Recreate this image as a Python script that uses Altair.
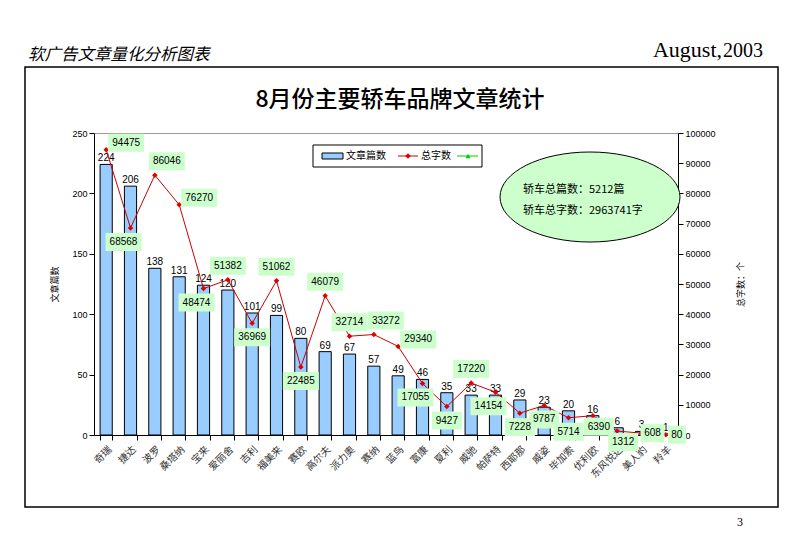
import altair as alt
import pandas as pd

brands = ["奇瑞", "捷达", "波罗", "桑塔纳", "宝来", "爱丽舍", "吉利", "福美来", "赛欧", "高尔夫",
          "派力奥", "赛纳", "蓝鸟", "富康", "夏利", "威驰", "帕萨特", "西耶那", "威姿", "毕加索",
          "优利欧", "东风悦达", "美人豹", "羚羊"]
articles = [224, 206, 138, 131, 124, 120, 101, 99, 80, 69, 67, 57, 49, 46, 35, 33, 33, 29, 23, 20, 16, 6, 3, 1]
words = [94475, 68568, 86046, 76270, 48474, 51382, 36969, 51062, 22485, 46079, 32714, 33272, 29340,
         17055, 9427, 17220, 14154, 7228, 9787, 5714, 6390, 1312, 608, 80]
label_side = ["ar", "bl", "a", "ar", "bl", "a0", "b", "a0", "b", "a0", "a0", "a", "ar",
              "bl", "b", "a0", "bl", "b", "b", "b", "br", "br", "r", "r"]
left_ticks = [0, 50, 100, 150, 200, 250]
right_ticks = [0, 10000, 20000, 30000, 40000, 50000, 60000, 70000, 80000, 90000, 100000]

df = pd.DataFrame({"brand": brands, "articles": articles, "words": words, "side": label_side})
one = pd.DataFrame({"a": [0]})

CJK = "Noto Sans CJK SC"
SANS = "Liberation Sans"
SERIF = "Liberation Serif"

xenc = alt.X("brand:N", sort=brands,
             scale=alt.Scale(paddingInner=0.5, paddingOuter=0.25),
             axis=alt.Axis(title=None, labelAngle=-45, labelFont=CJK, labelFontSize=10,
                           labelColor="#333333", tickBand="extent", domainColor="black",
                           tickColor="black", labelPadding=4))

yl = alt.Y("articles:Q", scale=alt.Scale(domain=[0, 250], nice=False),
           axis=alt.Axis(orient="left", values=left_ticks, title="文章篇数", titleAngle=270,
                         titleFont=CJK, titleFontSize=9, titleFontWeight="normal",
                         titlePadding=12, labelFont=SANS, labelFontSize=9, labelColor="black",
                         domainColor="black", tickColor="black", grid=False))

yr = alt.Y("words:Q", scale=alt.Scale(domain=[0, 100000], nice=False),
           axis=alt.Axis(orient="right", values=right_ticks, format="d", title="总字数：个",
                         titleAngle=270, titleFont=CJK, titleFontSize=9, titleFontWeight="normal",
                         titlePadding=30, labelFont=SANS, labelFontSize=9, labelColor="black",
                         domainColor="black", tickColor="black", grid=False))

base = alt.Chart(df).transform_calculate(nd="length(toString(datum.words))")

bars = base.mark_bar(color="#99CCFF", stroke="black", strokeWidth=1).encode(x=xenc, y=yl)
bar_text = base.mark_text(baseline="bottom", dy=-1, font=SANS, fontSize=10, color="black").encode(
    x=xenc, y=yl, text="articles:Q")
left_layer = alt.layer(bars, bar_text)

line = base.mark_line(color="#CC0000", strokeWidth=1).encode(x=xenc, y=yr)
pts = base.mark_point(shape="diamond", filled=True, color="#E00000", size=30, opacity=1).encode(
    x=xenc, y=yr)

offsets = {"ar": (20, -7), "a": (12, -14), "a0": (0, -14), "bl": (-7, 14), "b": (0, 14),
           "br": (6, 11), "r": (11, 0)}
# box shape per number of digits: (path, size)
boxes = {2: ("M-1,-1H1V1H-1Z", 18 * 18), 3: ("M-1,-0.75H1V0.75H-1Z", 24 * 24),
         4: ("M-1,-0.6H1V0.6H-1Z", 30 * 30), 5: ("M-1,-0.5H1V0.5H-1Z", 36 * 36)}
label_layers = []
for side, (ox, oy) in offsets.items():
    sub = base.transform_filter(alt.datum.side == side)
    for nd, (path, bsize) in boxes.items():
        box = sub.transform_filter(alt.datum.nd == nd).mark_point(
            shape=path, size=bsize, filled=True, color="#CCFFCC", opacity=1,
            xOffset=ox, yOffset=oy).encode(x=xenc, y=yr)
        label_layers.append(box)
for side, (ox, oy) in offsets.items():
    sub = base.transform_filter(alt.datum.side == side)
    txt = sub.mark_text(dx=ox, dy=oy, font=SANS, fontSize=10, color="black").encode(
        x=xenc, y=yr, text="words:Q")
    label_layers.append(txt)
right_layer = alt.layer(line, pts, *label_layers)

def txt_mark(text, x, y, **kw):
    return alt.Chart(one).mark_text(text=text, **kw).encode(x=alt.value(x), y=alt.value(y))

frame = alt.Chart(one).mark_rect(fill=None, stroke="black", strokeWidth=1.5).encode(
    x=alt.value(-69), x2=alt.value(684), y=alt.value(-66), y2=alt.value(374))
header_l = txt_mark("软广告文章量化分析图表", -66, -78, align="left", baseline="middle",
                    font=CJK, fontSize=16.5, fontStyle="italic", color="black")
header_r1 = txt_mark("2003", 629, -76, align="left", baseline="alphabetic", font=SERIF,
                     fontSize=20, color="black")
header_r2 = txt_mark("August,", 628, -76, align="right", baseline="alphabetic", font=SERIF,
                     fontSize=22, color="black")
title = txt_mark("8月份主要轿车品牌文章统计", 306, -33, align="center", baseline="middle",
                 font=CJK, fontSize=23, fontWeight=500, color="black")
page_no = txt_mark("3", 646, 389, align="center", baseline="middle", font=SERIF, fontSize=12,
                   color="black")

leg_box = alt.Chart(one).mark_rect(fill="white", stroke="black", strokeWidth=1).encode(
    x=alt.value(219), x2=alt.value(388), y=alt.value(12), y2=alt.value(34))
leg_bar = alt.Chart(one).mark_rect(fill="#99CCFF", stroke="black", strokeWidth=1).encode(
    x=alt.value(228), x2=alt.value(249), y=alt.value(20), y2=alt.value(26))
leg_t1 = txt_mark("文章篇数", 252, 23, align="left", baseline="middle", font=CJK, fontSize=10,
                  color="black")
leg_r1 = alt.Chart(one).mark_rule(color="#CC0000", strokeWidth=1).encode(
    x=alt.value(304), x2=alt.value(324), y=alt.value(23))
leg_p1 = alt.Chart(one).mark_point(shape="diamond", filled=True, color="#E00000", size=30,
                                   opacity=1).encode(x=alt.value(314), y=alt.value(23))
leg_t2 = txt_mark("总字数", 327, 23, align="left", baseline="middle", font=CJK, fontSize=10,
                  color="black")
leg_r2 = alt.Chart(one).mark_rule(color="#00CC00", strokeWidth=1).encode(
    x=alt.value(363), x2=alt.value(384), y=alt.value(23))
leg_p2 = alt.Chart(one).mark_point(shape="triangle-up", filled=True, color="#00CC00", size=25,
                                   opacity=1).encode(x=alt.value(374), y=alt.value(23))

ell_path = "M-1,0A1,0.5,0,1,1,1,0A1,0.5,0,1,1,-1,0Z"
ellipse = alt.Chart(one).mark_point(shape=ell_path, filled=True, fill="#CCFFCC", stroke="black",
                                    strokeWidth=1, size=180 * 180, opacity=1).encode(
    x=alt.value(496), y=alt.value(64))
ell_t1 = txt_mark("轿车总篇数：5212篇", 429, 57, align="left", baseline="middle", font=CJK,
                  fontSize=11, color="black")
ell_t2 = txt_mark("轿车总字数：2963741字", 429, 78, align="left", baseline="middle", font=CJK,
                  fontSize=11, color="black")

chart = alt.layer(
    left_layer, right_layer,
    frame, header_l, header_r1, header_r2, title, page_no,
    leg_box, leg_bar, leg_t1, leg_r1, leg_p1, leg_t2, leg_r2, leg_p2,
    ellipse, ell_t1, ell_t2,
).resolve_scale(y="independent").properties(
    width=584, height=302,
    autosize=alt.AutoSizeParams(type="none"),
    padding={"left": 86, "top": 125, "right": 114, "bottom": 110},
    background="white",
).configure_view(stroke="#999999", strokeWidth=1)

chart.save("out.html", embed_options={"renderer": "svg", "actions": False})
